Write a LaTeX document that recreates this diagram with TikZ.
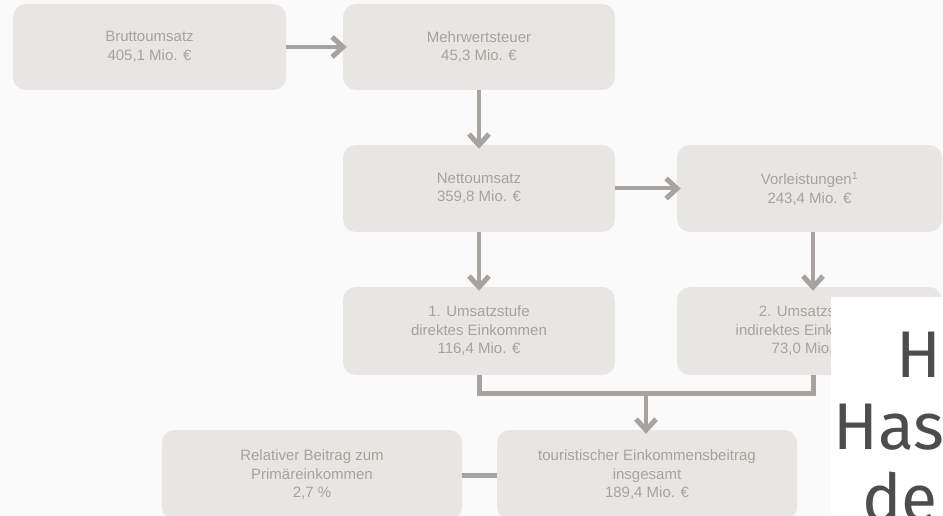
\documentclass[tikz,border=0pt]{standalone}
\usepackage{fontspec}
\setmainfont{Liberation Sans}
\newfontfamily\overlayfont{Fira Sans}
\usetikzlibrary{arrows.meta}
\definecolor{bgc}{HTML}{FAFAFA}
\definecolor{boxc}{HTML}{E8E6E3}
\definecolor{txtc}{HTML}{A8A29E}
\definecolor{linec}{HTML}{A8A39F}
\definecolor{ovtxt}{HTML}{4D4D4D}
\tikzset{
  chev/.tip={Straight Barb[length=11pt,width=20pt,line width=5pt]},
  flowbox/.style={rectangle, rounded corners=13pt, fill=boxc, text=txtc,
    align=center, inner sep=0pt, font=\fontsize{15}{18.5}\selectfont},
  conn/.style={draw=linec, line width=4pt, -chev, shorten >=-4pt},
  bracketline/.style={draw=linec, line width=5pt},
  ovtext/.style={text=ovtxt, inner sep=0pt, anchor=base west, font=\overlayfont\fontsize{66}{70}\selectfont}
}
\begin{document}
\begin{tikzpicture}[x=1pt,y=-1pt]
\useasboundingbox (0,0) rectangle (943,516);
\fill[bgc] (0,0) rectangle (943,516);
\node[flowbox, minimum width=273pt, minimum height=86pt] (brutto) at (149.5,47) {Bruttoumsatz\\405,1 Mio. €};
\node[flowbox, minimum width=272pt, minimum height=86pt] (mwst) at (479,47) {Mehrwertsteuer\\45,3 Mio. €};
\node[flowbox, minimum width=272pt, minimum height=87pt] (netto) at (479,188.5) {Nettoumsatz\\359,8 Mio. €};
\node[flowbox, minimum width=265pt, minimum height=87pt] (vorl) at (809.5,188.5) {Vorleistungen\textsuperscript{1}\\243,4 Mio. €};
\node[flowbox, minimum width=272pt, minimum height=88pt] (u1) at (479,331) {1. Umsatzstufe\\direktes Einkommen\\116,4 Mio. €};
\node[flowbox, minimum width=265pt, minimum height=88pt] (u2) at (809.5,331) {2. Umsatzstufe\\indirektes Einkommen\\73,0 Mio. €};
\node[flowbox, minimum width=300pt, minimum height=90pt] (rel) at (312,475) {Relativer Beitrag zum\\Primäreinkommen\\2,7 \%};
\node[flowbox, minimum width=300pt, minimum height=90pt] (tour) at (647,475) {touristischer Einkommensbeitrag\\insgesamt\\189,4 Mio. €};
% connectors
\draw[conn] (brutto) -- (mwst);
\draw[conn] (mwst) -- (netto);
\draw[conn] (netto) -- (vorl);
\draw[conn] (netto) -- (u1);
\draw[conn] ([xshift=3.5pt]vorl.south) -- ([xshift=3.5pt]u2.north);
\coordinate (joinpt) at (646,393);
\draw[bracketline] (u1.south) |- (joinpt) -| ([xshift=3.5pt]u2.south);
\draw[conn] (joinpt) -- (joinpt |- tour.north);
\draw[bracketline] (rel) -- (tour);
% overlay
\fill[white] (831,297) rectangle (950,530);
\node[ovtext] (ovH) at (896,377) {H};
\node[ovtext] (ovHas) at (833,449) {Has};
\node[ovtext] (ovde) at (862,521) {de};
\end{tikzpicture}
\end{document}
